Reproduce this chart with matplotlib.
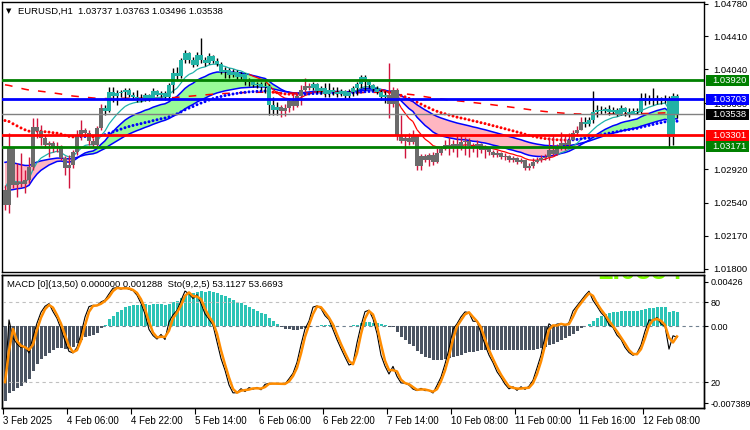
import numpy as np
import matplotlib
matplotlib.use("Agg")
import matplotlib.pyplot as plt
from matplotlib.collections import LineCollection
from matplotlib.patches import Rectangle
from matplotlib.transforms import blended_transform_factory

plt.rcParams['font.family'] = ['Liberation Sans', 'DejaVu Sans']

# ---------------- data (EURUSD H1) ----------------
time_labels = ["3 Feb 2025", "4 Feb 06:00", "4 Feb 22:00", "5 Feb 14:00", "6 Feb 06:00",
               "6 Feb 22:00", "7 Feb 14:00", "10 Feb 08:00", "11 Feb 00:00",
               "11 Feb 16:00", "12 Feb 08:00"]

first_open = 1.02684
close = [1.02516, 1.03156, 1.02741, 1.02774, 1.02752, 1.02797, 1.02943, 1.03392, 1.03347, 1.03269,
         1.03190, 1.03213, 1.03156, 1.03179, 1.03044, 1.02932, 1.02965, 1.03111, 1.03302, 1.03359,
         1.03325, 1.03235, 1.03190, 1.03381, 1.03606, 1.03572, 1.03786, 1.03741, 1.03774, 1.03786,
         1.03808, 1.03752, 1.03729, 1.03718, 1.03696, 1.03752, 1.03707, 1.03797, 1.03752, 1.03774,
         1.03729, 1.03864, 1.03999, 1.03965, 1.04145, 1.04224, 1.04145, 1.04089, 1.04201, 1.04145,
         1.04111, 1.04190, 1.04134, 1.04100, 1.04010, 1.04033, 1.03977, 1.04010, 1.03954, 1.03988,
         1.03898, 1.03920, 1.03864, 1.03875, 1.03842, 1.03853, 1.03640, 1.03583, 1.03617, 1.03572,
         1.03606, 1.03684, 1.03628, 1.03741, 1.03808, 1.03853, 1.03831, 1.03875, 1.03797, 1.03831,
         1.03763, 1.03808, 1.03786, 1.03763, 1.03797, 1.03741, 1.03786, 1.03831, 1.03875, 1.03954,
         1.03898, 1.03864, 1.03819, 1.03786, 1.03729, 1.03752, 1.03651, 1.03808, 1.03302, 1.03235,
         1.03269, 1.03224, 1.03291, 1.02954, 1.03066, 1.03022, 1.03078, 1.02999, 1.03100, 1.03145,
         1.03190, 1.03168, 1.03201, 1.03168, 1.03224, 1.03235, 1.03179, 1.03156, 1.03201, 1.03134,
         1.03156, 1.03111, 1.03078, 1.03100, 1.03055, 1.03066, 1.03022, 1.03044, 1.02999, 1.03022,
         1.02932, 1.02954, 1.02999, 1.03022, 1.03044, 1.03055, 1.03134, 1.03089, 1.03179, 1.03213,
         1.03190, 1.03246, 1.03325, 1.03359, 1.03449, 1.03426, 1.03471, 1.03561, 1.03583, 1.03572,
         1.03595, 1.03561, 1.03583, 1.03538, 1.03606, 1.03561, 1.03538, 1.03572, 1.03561, 1.03718,
         1.03684, 1.03707, 1.03696, 1.03718, 1.03684, 1.03707, 1.03280, 1.03737, 1.03538]

high = [1.02741, 1.03325, 1.03168, 1.02988, 1.03100, 1.02909, 1.03055, 1.03493, 1.03493, 1.03415,
        1.03302, 1.03235, 1.03235, 1.03224, 1.03190, 1.03066, 1.03078, 1.03134, 1.03359, 1.03471,
        1.03381, 1.03359, 1.03269, 1.03404, 1.03651, 1.03640, 1.03842, 1.03842, 1.03808, 1.03808,
        1.03831, 1.03831, 1.03786, 1.03808, 1.03763, 1.03774, 1.03763, 1.03831, 1.03808, 1.03797,
        1.03797, 1.03887, 1.04055, 1.04067, 1.04168, 1.04258, 1.04235, 1.04179, 1.04235, 1.04392,
        1.04179, 1.04224, 1.04201, 1.04168, 1.04123, 1.04067, 1.04055, 1.04044, 1.04033, 1.04010,
        1.03999, 1.03943, 1.03920, 1.03898, 1.03898, 1.03898, 1.03875, 1.03729, 1.03673, 1.03640,
        1.03651, 1.03718, 1.03752, 1.03786, 1.03864, 1.03943, 1.03887, 1.03898, 1.03887, 1.03853,
        1.03887, 1.03887, 1.03842, 1.03842, 1.03819, 1.03808, 1.03819, 1.03853, 1.03898, 1.03977,
        1.03977, 1.03920, 1.03875, 1.03853, 1.03808, 1.03797, 1.04111, 1.03842, 1.03831, 1.03527,
        1.03302, 1.03325, 1.03359, 1.03302, 1.03089, 1.03089, 1.03100, 1.03111, 1.03156, 1.03179,
        1.03246, 1.03280, 1.03246, 1.03302, 1.03302, 1.03280, 1.03269, 1.03213, 1.03246, 1.03213,
        1.03190, 1.03168, 1.03134, 1.03134, 1.03111, 1.03100, 1.03078, 1.03066, 1.03055, 1.03044,
        1.03022, 1.02988, 1.03044, 1.03055, 1.03078, 1.03089, 1.03280, 1.03302, 1.03201, 1.03336,
        1.03302, 1.03325, 1.03359, 1.03404, 1.03505, 1.03505, 1.03505, 1.03797, 1.03640, 1.03628,
        1.03617, 1.03640, 1.03617, 1.03606, 1.03640, 1.03617, 1.03606, 1.03606, 1.03606, 1.03774,
        1.03774, 1.03752, 1.03831, 1.03752, 1.03729, 1.03752, 1.03741, 1.03774, 1.03763]

low = [1.02460, 1.02426, 1.02707, 1.02606, 1.02718, 1.02651, 1.02763, 1.02909, 1.03269, 1.03190,
       1.03156, 1.03055, 1.03111, 1.03111, 1.03022, 1.02853, 1.02707, 1.02932, 1.03078, 1.03246,
       1.03291, 1.03190, 1.03168, 1.03179, 1.03359, 1.03527, 1.03561, 1.03673, 1.03640, 1.03729,
       1.03696, 1.03729, 1.03707, 1.03673, 1.03673, 1.03684, 1.03684, 1.03696, 1.03741, 1.03729,
       1.03696, 1.03696, 1.03774, 1.03920, 1.03943, 1.04111, 1.04111, 1.04067, 1.04078, 1.04111,
       1.04078, 1.04100, 1.04111, 1.04078, 1.03988, 1.03943, 1.03943, 1.03954, 1.03920, 1.03920,
       1.03864, 1.03853, 1.03842, 1.03831, 1.03808, 1.03774, 1.03527, 1.03527, 1.03527, 1.03505,
       1.03516, 1.03561, 1.03583, 1.03617, 1.03640, 1.03786, 1.03808, 1.03808, 1.03774, 1.03763,
       1.03729, 1.03729, 1.03752, 1.03729, 1.03741, 1.03718, 1.03718, 1.03741, 1.03752, 1.03831,
       1.03808, 1.03831, 1.03797, 1.03763, 1.03696, 1.03662, 1.03493, 1.03617, 1.03246, 1.03213,
       1.03044, 1.03190, 1.03201, 1.02909, 1.02909, 1.02999, 1.02954, 1.02965, 1.02988, 1.03078,
       1.03134, 1.03078, 1.03111, 1.03055, 1.03134, 1.03078, 1.03055, 1.03111, 1.03055, 1.03100,
       1.03044, 1.03078, 1.03055, 1.03055, 1.03033, 1.03022, 1.02999, 1.02999, 1.02977, 1.02988,
       1.02909, 1.02909, 1.02932, 1.02988, 1.02999, 1.03022, 1.03022, 1.03066, 1.03078, 1.03134,
       1.03134, 1.03168, 1.03246, 1.03291, 1.03359, 1.03392, 1.03404, 1.03437, 1.03505, 1.03538,
       1.03550, 1.03527, 1.03538, 1.03516, 1.03527, 1.03516, 1.03505, 1.03538, 1.03538, 1.03550,
       1.03640, 1.03651, 1.03640, 1.03651, 1.03651, 1.03662, 1.03168, 1.03190, 1.03496]

level_prices = [1.03920, 1.03703, 1.03301, 1.03171]
level_colors = ["#008000", "#0000ff", "#ff0000", "#008000"]
current_price = 1.03538

price_ticks = [1.04780, 1.04410, 1.04040, 1.03660, 1.02920, 1.02540, 1.02170, 1.01800]

# indicator settings and starting values (from the visible chart start)
band_fast_period, band_fast_start = 18, 1.0264
band_slow_period, band_slow_start = 40, 1.0302
thin_period, thin_start = 10, 1.0275
dot_period, dot_start = 55, 1.0350
dash_period, dash_start = 200, 1.0388
macd_fast, macd_fast_start = 13, 1.0275
macd_slow, macd_slow_start = 50, 1.0347
sto_k, sto_d, sto_slow = 9, 2, 5

# ---------------- computations ----------------
close = np.array(close); high = np.array(high); low = np.array(low)
opn = np.r_[first_open, close[:-1]]
n = len(close)
x = np.arange(n)


def ema(values, period, start):
    a = 2.0 / (period + 1)
    out = np.empty(len(values))
    e = start
    for i, v in enumerate(values):
        e = e + a * (v - e)
        out[i] = e
    return out


band_fast = ema(close, band_fast_period, band_fast_start)
band_slow = ema(close, band_slow_period, band_slow_start)
thin = ema(close, thin_period, thin_start)
dots = ema(close, dot_period, dot_start)
dash = ema(close, dash_period, dash_start)
macd = ema(close, macd_fast, macd_fast_start) - ema(close, macd_slow, macd_slow_start)

hh = np.array([high[max(0, i - sto_k + 1):i + 1].max() for i in range(n)])
ll = np.array([low[max(0, i - sto_k + 1):i + 1].min() for i in range(n)])
num = close - ll
den = hh - ll
main = np.array([100 * num[max(0, i - sto_slow + 1):i + 1].sum() /
                 max(den[max(0, i - sto_slow + 1):i + 1].sum(), 1e-9) for i in range(n)])
signal = np.array([main[max(0, i - sto_d + 1):i + 1].mean() for i in range(n)])

# ---------------- figure ----------------
W, H = 750, 430
fig = plt.figure(figsize=(W / 100, H / 100), dpi=100)
fig.patch.set_facecolor("white")


def fx(px):
    return px / W


def fy(py):
    return 1 - py / H


ax = fig.add_axes([fx(2), fy(272), fx(704) - fx(2), fy(2) - fy(272)])
sub = fig.add_axes([fx(2), fy(408), fx(704) - fx(2), fy(275) - fy(408)])
sto = sub.twinx()

XL = (-0.75, 174.75)
ax.set_xlim(*XL)
sub.set_xlim(*XL)
ax.set_ylim(1.01763, 1.04797)
sub.set_ylim(-0.00787, 0.00493)
sto.set_ylim(0.5, 100.3)

# ---- band ----
ax.fill_between(x, band_fast, band_slow, where=band_fast >= band_slow, interpolate=True,
                color="#98fb98", lw=0, zorder=1)
ax.fill_between(x, band_fast, band_slow, where=band_fast < band_slow, interpolate=True,
                color="#ffb6c1", lw=0, zorder=1)
ax.plot(x, band_fast, color="#0000ff", lw=1.1, zorder=2)
ax.plot(x, band_slow, color="#0000ff", lw=1.1, zorder=2)

# ---- long dashed average ----
ax.plot(x, dash, color="#ff0000", lw=1.1, ls=(0, (5, 6)), zorder=2)

# ---- thin line ----
segs = [[(x[i], thin[i]), (x[i + 1], thin[i + 1])] for i in range(n - 1)]
cols = ["#20b2aa" if thin[i + 1] >= band_fast[i + 1] else "#ff0000" for i in range(n - 1)]
ax.add_collection(LineCollection(segs, colors=cols, lw=0.9, zorder=2))

# ---- dotted average ----
dcol = ["#0000ff" if (i > 0 and dots[i] >= dots[i - 1]) else "#ff0000" for i in range(n)]
ax.scatter(x, dots, s=4.5, c=dcol, marker="o", lw=0, zorder=3)

# ---- candles ----
bull = macd > 0
body_col = np.where(bull, "#22b2a5", "#6b6b6b")
wick_col = np.where(bull, "#000000", "#d0143c")
top = np.maximum.reduce([high, opn, close])
bot = np.minimum.reduce([low, opn, close])
ax.vlines(x, bot, top, colors=wick_col, lw=1.0, zorder=4)
bh = np.maximum(np.abs(close - opn), 0.00011)
ax.bar(x, bh, bottom=np.minimum(opn, close), width=0.78, color=body_col, lw=0, zorder=5)

# ---- horizontal levels ----
for p, c in zip(level_prices, level_colors):
    ax.axhline(p, color=c, lw=2, zorder=6)
ax.axhline(current_price, color="#808080", lw=1, zorder=6)

# ---- price axis ----
ax.yaxis.tick_right()
ax.set_yticks(price_ticks)
ax.set_yticklabels([f"{t:.5f}" for t in price_ticks])
ax.tick_params(axis="y", length=3, width=0.8, labelsize=6.8, pad=4, colors="black")
ax.set_xticks([])
for s in ax.spines.values():
    s.set_linewidth(1)
    s.set_color("black")

tb = blended_transform_factory(ax.transAxes, ax.transData)
box_h = 0.00124
for p, c in [(1.03920, "#008000"), (1.03703, "#0000ff"), (1.03538, "#000000"),
             (1.03301, "#ff0000"), (1.03171, "#008000")]:
    ax.add_patch(Rectangle((1.003, p - box_h / 2), 0.061, box_h, transform=tb,
                           facecolor=c, edgecolor="none", clip_on=False, zorder=10))
    ax.text(1.0114, p, f"{p:.5f}", transform=tb, color="white", fontsize=6.8,
            va="center", ha="left", zorder=11, clip_on=False)

# ---- title ----
fig.text(fx(6), fy(11), "\u25BC", fontsize=5, va="center", ha="left",
         family=["DejaVu Sans"], color="black")
fig.text(fx(18), fy(11), "EURUSD,H1  1.03737 1.03763 1.03496 1.03538",
         fontsize=6.8, va="center", ha="left", color="black")

# ---- sub window: MACD histogram + stochastic ----
hcol = np.where(macd > 0, "#2cc4b6", "#4b5462")
sub.bar(x, macd, width=0.75, color=hcol, lw=0, zorder=2)
sub.axhline(0, color="#708090", lw=0.8, ls=(0, (3, 3)), zorder=1)
sto.axhline(80, color="#c0c0c0", lw=0.8, ls=(0, (3, 3)), zorder=1)
sto.axhline(20, color="#c0c0c0", lw=0.8, ls=(0, (3, 3)), zorder=1)
sto.plot(x, main, color="black", lw=0.8, zorder=3)
sto.plot(x, signal, color="#ff8c00", lw=1.8, zorder=4)

# large lime label whose lower edge peeks into the indicator window
lime = sub.text(0.848, 0.968, "1.0354", transform=sub.transAxes, fontsize=20,
                fontweight="bold", color="#7fff00", va="baseline", ha="left", zorder=1)
lime.set_clip_path(sub.patch)
lime.set_clip_on(True)

sub.yaxis.tick_right()
sub.set_yticks([0.00426, 0.0, -0.007389])
sub.set_yticklabels(["0.00426", "0.00", "-0.007389"])
sub.tick_params(axis="y", length=3, width=0.8, labelsize=6.5, pad=2)
sto.set_yticks([80, 20])
sto.set_yticklabels(["80", "20"])
sto.tick_params(axis="y", length=3, width=0.8, labelsize=6.5, pad=2)

tick_pos = [16 * k - 0.5 for k in range(len(time_labels))]
sub.set_xticks(tick_pos)
sub.set_xticklabels(time_labels)
for lab in sub.get_xticklabels():
    lab.set_horizontalalignment("left")
sub.tick_params(axis="x", length=4, width=0.8, labelsize=7, pad=2)
for s in list(sub.spines.values()) + list(sto.spines.values()):
    s.set_linewidth(1)
    s.set_color("black")

sub.text(0.007, 0.93, "MACD [0](13,50) 0.000000 0.001288  Sto(9,2,5) 53.1127 53.6693",
         transform=sub.transAxes, fontsize=6.8, va="center", ha="left", zorder=10)

fig.savefig("out.png", dpi=100, facecolor="white")
